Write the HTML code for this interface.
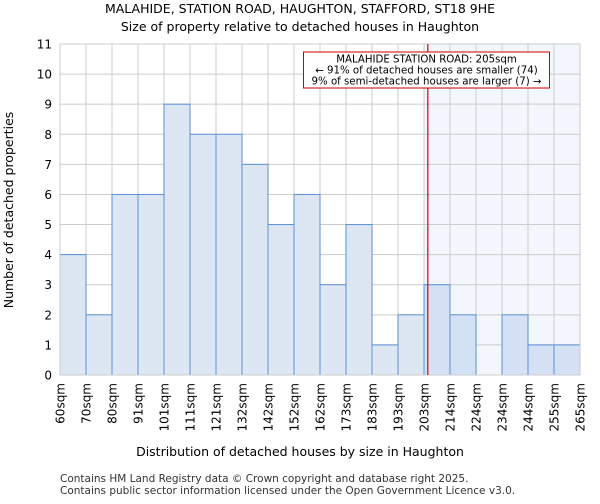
<!DOCTYPE html>
<html><head><meta charset="utf-8"><style>
body{margin:0;background:#fff;font-family:"DejaVu Sans","Liberation Sans",sans-serif;}
</style></head><body>
<svg width="600" height="500" xmlns="http://www.w3.org/2000/svg" font-family="DejaVu Sans, Liberation Sans, sans-serif">
<text x="300" y="13" text-anchor="middle" font-size="12.5">MALAHIDE, STATION ROAD, HAUGHTON, STAFFORD, ST18 9HE</text>
<text x="300" y="31" text-anchor="middle" font-size="12.5">Size of property relative to detached houses in Haughton</text>
<g id="plot"></g>
<text x="300" y="456" text-anchor="middle" font-size="12.5">Distribution of detached houses by size in Haughton</text>
<text transform="translate(13,210) rotate(-90)" text-anchor="middle" font-size="12.5">Number of detached properties</text>
<text x="60" y="482" font-size="10.5" fill="#333">Contains HM Land Registry data © Crown copyright and database right 2025.</text>
<text x="60" y="494" font-size="10.5" fill="#333">Contains public sector information licensed under the Open Government Licence v3.0.</text>
</svg>
<script>
const labels=["60sqm","70sqm","80sqm","91sqm","101sqm","111sqm","121sqm","132sqm","142sqm","152sqm","162sqm","173sqm","183sqm","193sqm","203sqm","214sqm","224sqm","234sqm","244sqm","255sqm","265sqm"];
const counts=[4,2,6,6,9,8,8,7,5,6,3,5,1,2,3,2,0,2,1,1];
const yTicks=[0,1,2,3,4,5,6,7,8,9,10,11];
const markerSize=205;
const binStart=60, binWidth=10.25;
const L=60,R=580,T=44,B=375,yMax=11;
const NS="http://www.w3.org/2000/svg";
const g=document.getElementById('plot');
const n=counts.length, bw=(R-L)/n;
const xb=i=>L+i*bw;
const xs=v=>L+(v-binStart)/binWidth*bw;
const y=v=>B-v/yMax*(B-T);
function mk(t,a){const e=document.createElementNS(NS,t);for(const k in a)e.setAttribute(k,a[k]);g.appendChild(e);return e;}
const mx=xs(markerSize);
const binEdge=Math.floor((markerSize-binStart)/binWidth);
let e=mk('rect',{x:xb(binEdge),y:T,width:R-xb(binEdge),height:B-T,fill:'#f3f6fd'});


yTicks.forEach(t=>{let l=mk('line',{x1:L,x2:R,y1:y(t),y2:y(t),stroke:'#cccccc'});


let tx=mk('text',{x:L-8,y:y(t)+4.5,'text-anchor':'end','font-size':'12'});tx.textContent=t;

});
labels.forEach((s,i)=>{let l=mk('line',{x1:xb(i),x2:xb(i),y1:T,y2:B,stroke:'#cccccc'});


let tx=mk('text',{transform:`translate(${xb(i)+4.5},${B+8}) rotate(-90)`,'text-anchor':'end','font-size':'12'});tx.textContent=s;

});
counts.forEach((c,i)=>{if(c<=0)return;let r=mk('rect',{x:xb(i),y:y(c),width:bw,height:B-y(c),fill:xb(i)>=xb(binEdge)?'#d4e0f3':'#dde7f4',stroke:'#5a8fd6','stroke-width':1});

});
e=mk('rect',{x:L,y:T,width:R-L,height:B-T,fill:'none',stroke:'#cccccc'});


e=mk('line',{x1:mx,x2:mx,y1:T,y2:B,stroke:'#dd0000','stroke-width':1.2});


e=mk('rect',{x:303.5,y:52,width:246,height:36,fill:'#fff',stroke:'#cc0000'});


["MALAHIDE STATION ROAD: 205sqm","← 91% of detached houses are smaller (74)","9% of semi-detached houses are larger (7) →"].forEach((s,i)=>{let t=mk('text',{x:426.5,y:62.5+i*11,'text-anchor':'middle','font-size':'10.2'});t.textContent=s;

});
</script>
</body></html>
